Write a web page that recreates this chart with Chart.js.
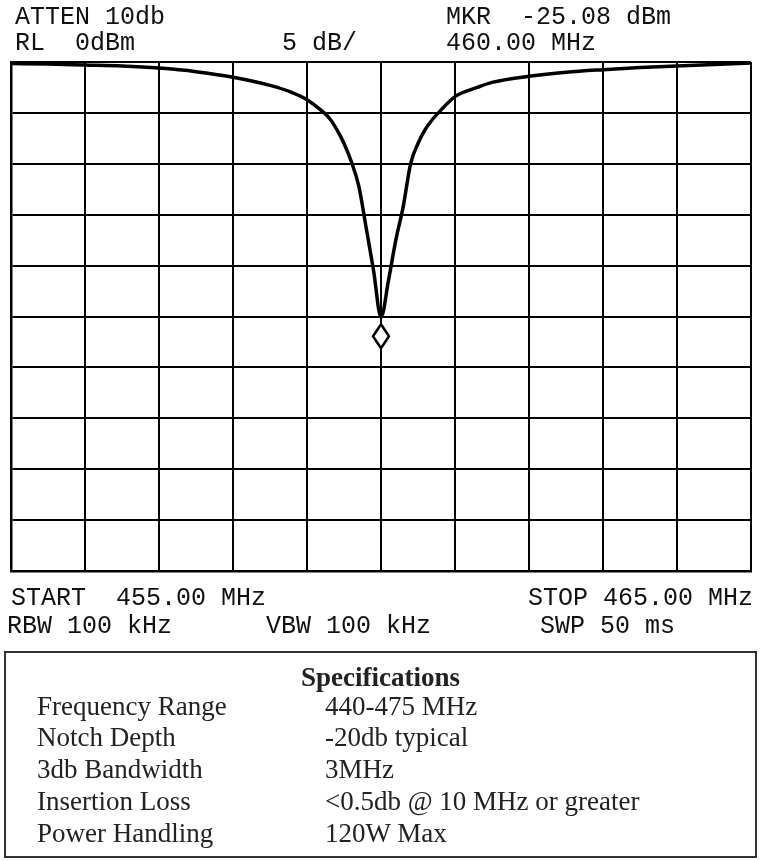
<!DOCTYPE html>
<html>
<head>
    <title>Notch filter response</title>
    <style>
        body { margin: 0; background: #fff; width: 765px; height: 861px; position: relative; overflow: hidden; }
        #chart { position: absolute; left: 0; top: 0; }
        .mono { position: absolute; font-family: "Liberation Mono", monospace; font-size: 25px; color: #111; white-space: pre; line-height: 25px; }
        #specs {
            position: absolute; left: 4px; top: 651px; width: 753px; height: 207px;
            border: 2px solid #333; box-sizing: border-box;
            font-family: "Liberation Serif", serif; font-size: 27px; color: #222; line-height: 32px;
        }
        #specs h3 { margin: 0; position: absolute; top: 8px; width: 100%; text-align: center; font-size: 27px; line-height: 32px; }
        .row { position: absolute; left: 31px; white-space: pre; }
        .row span { position: absolute; left: 288px; }
    </style>
</head>
<body>
    <canvas id="chart" width="765" height="861"></canvas>

    <div class="mono" style="left:15px; top:5px;">ATTEN 10db</div>
    <div class="mono" style="left:15px; top:31px;">RL  0dBm</div>
    <div class="mono" style="left:282px; top:31px;">5 dB/</div>
    <div class="mono" style="left:446px; top:5px;">MKR  -25.08 dBm</div>
    <div class="mono" style="left:446px; top:31px;">460.00 MHz</div>
    <div class="mono" style="left:11px; top:586px;">START  455.00 MHz</div>
    <div class="mono" style="right:12px; top:586px;">STOP 465.00 MHz</div>
    <div class="mono" style="left:7px; top:614px;">RBW 100 kHz</div>
    <div class="mono" style="left:266px; top:614px;">VBW 100 kHz</div>
    <div class="mono" style="left:540px; top:614px;">SWP 50 ms</div>

    <div id="specs"></div>

    <script src="https://cdn.jsdelivr.net/npm/chart.js"></script>
    <script>
        // trace (MHz, dBm)
        const freqs = [455.0, 455.5, 456.0, 456.5, 457.0, 457.5, 458.0, 458.5, 458.8, 459.0,
                       459.2, 459.3, 459.4, 459.5, 459.6, 459.7, 459.8, 459.9, 460.0,
                       460.1, 460.2, 460.3, 460.4, 460.5, 460.6, 460.7, 460.8, 461.0,
                       461.3, 461.5, 462.0, 462.5, 463.0, 463.5, 464.0, 464.5, 465.0];
        const levels = [-0.15, -0.2, -0.3, -0.4, -0.6, -0.95, -1.5, -2.3, -3.0, -3.7,
                        -4.8, -5.5, -6.6, -8.0, -9.8, -12.2, -16.3, -20.5, -25.08,
                        -21.5, -17.5, -14.2, -10.0, -8.0, -6.6, -5.6, -4.8, -3.4,
                        -2.5, -2.0, -1.4, -1.0, -0.75, -0.55, -0.4, -0.25, -0.1];
        const markerFreq = 460.0;
        const markerLevel = -25.08;

        const specLabels = ['Frequency Range', 'Notch Depth', '3db Bandwidth', 'Insertion Loss', 'Power Handling'];
        const specValues = ['440-475 MHz', '-20db typical', '3MHz', '<0.5db @ 10 MHz or greater', '120W Max'];

        // spec table
        const specs = document.getElementById('specs');
        let html = '<h3>Specifications</h3>';
        specLabels.forEach((l, i) => {
            const esc = specValues[i].replace(/</g, '&lt;');
            html += '<div class="row" style="top:' + [37, 68, 100, 132, 164][i] + 'px">' + l + '<span>' + esc + '</span></div>';
        });
        specs.innerHTML = html;

        // marker diamond hangs just below the trace minimum
        const markerPlugin = {
            id: 'marker',
            afterDatasetsDraw(chart) {
                const x = chart.scales.x.getPixelForValue(markerFreq);
                const y = chart.scales.y.getPixelForValue(markerLevel);
                const c = chart.ctx;
                c.save();
                c.strokeStyle = '#000';
                c.lineWidth = 2.5;
                c.fillStyle = '#fff';
                c.beginPath();
                c.moveTo(x, y + 7);
                c.lineTo(x + 8, y + 19);
                c.lineTo(x, y + 31);
                c.lineTo(x - 8, y + 19);
                c.closePath();
                c.fill();
                c.stroke();
                c.restore();
            }
        };

        const ctx = document.getElementById('chart').getContext('2d');
        new Chart(ctx, {
            type: 'line',
            data: {
                datasets: [{
                    data: freqs.map((f, i) => ({ x: f, y: levels[i] })),
                    borderColor: '#000',
                    borderWidth: 3.5,
                    pointRadius: 0,
                    fill: false,
                    cubicInterpolationMode: 'monotone'
                }]
            },
            options: {
                responsive: false,
                animation: false,
                layout: { padding: { left: 11, top: 62, right: 14, bottom: 290 } },
                plugins: { legend: { display: false }, tooltip: { enabled: false } },
                scales: {
                    x: {
                        type: 'linear', min: 455, max: 465,
                        ticks: { display: false, stepSize: 1 },
                        grid: { color: '#000', lineWidth: 2, drawTicks: false },
                        border: { color: '#000', width: 2.5 }
                    },
                    y: {
                        min: -50, max: 0,
                        ticks: { display: false, stepSize: 5 },
                        grid: { color: '#000', lineWidth: 2, drawTicks: false },
                        border: { color: '#000', width: 2.5 }
                    }
                }
            },
            plugins: [markerPlugin]
        });
    </script>
</body>
</html>
